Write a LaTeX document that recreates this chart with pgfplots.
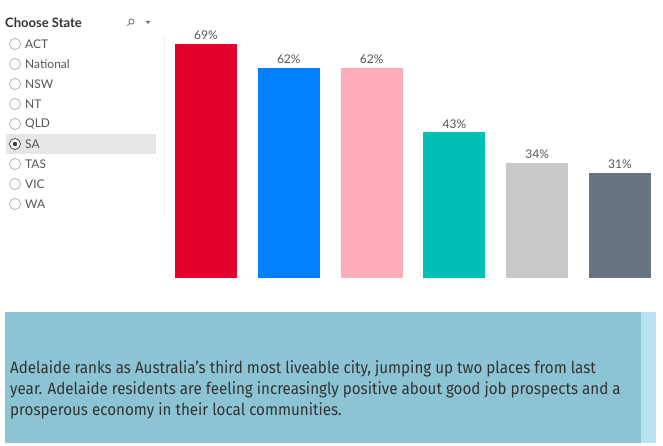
\documentclass[border=0pt]{standalone}
\usepackage{pgfplots}
\pgfplotsset{compat=1.18}
\usepackage{fontspec}
\setmainfont{Lato}
\newfontfamily\boxfont[FakeStretch=0.92]{Fira Sans}
\definecolor{cRed}{HTML}{E4002B}
\definecolor{cBlue}{HTML}{0080FF}
\definecolor{cPink}{HTML}{FFADBB}
\definecolor{cTeal}{HTML}{00BFB3}
\definecolor{cLGrey}{HTML}{C8C8C8}
\definecolor{cDGrey}{HTML}{687580}
\definecolor{boxBlue}{HTML}{8CC4D4}
\definecolor{boxStrip}{HTML}{BAE1EE}
\definecolor{txtGrey}{HTML}{555555}
\definecolor{hlGrey}{HTML}{E6E6E6}
\begin{document}
\begin{tikzpicture}[x=1pt,y=1pt]
\path[use as bounding box,fill=white] (0,0) rectangle (663,446);
% left panel
\node[anchor=west,font=\fontsize{13}{15}\selectfont\bfseries,text=black!80,inner sep=0] at (5,423) {Choose State};
\draw[black!55,line width=0.8pt] (131.5,424.5) circle (2.6);
\draw[black!55,line width=0.9pt] (129.6,422.6) -- (127.3,420.3);
\fill[black!55] (145.5,425) -- (150.5,425) -- (148,422) -- cycle;
\fill[hlGrey] (6,292) rectangle (156,312);
\draw[black!6] (164,230) -- (164,410);
\foreach \lab [count=\i from 0] in {ACT,National,NSW,NT,QLD,SA,TAS,VIC,WA}{
  \pgfmathsetmacro{\yy}{402-20*\i}
  \draw[black!35,line width=0.6pt] (15,\yy) circle (5.5);
  \node[anchor=west,font=\fontsize{12}{14}\selectfont,text=txtGrey,inner sep=0] at (25,\yy) {\lab};
}
\fill[white] (15,302) circle (5);
\draw[black!70,line width=0.7pt] (15,302) circle (5.5);
\fill[black!75] (15,302) circle (2.2);
% bottom box
\fill[boxBlue] (5,3) rectangle (641,134);
\fill[boxStrip] (641,3) rectangle (656,134);
\node[anchor=west,font=\boxfont\fontsize{16.5}{21}\selectfont,text=black!80,inner sep=0,align=left] at (10,56)
 {Adelaide ranks as Australia’s third most liveable city, jumping up two places from last\\
  year. Adelaide residents are feeling increasingly positive about good job prospects and a\\
  prosperous economy in their local communities.};
% bars
\begin{axis}[at={(164.6pt,168pt)},anchor=south west,scale only axis,
  width=496.8pt,height=234pt,xmin=-0.5,xmax=5.5,ymin=0,ymax=69,
  hide axis,clip=false,
  every node near coord/.append style={font=\fontsize{12}{14}\selectfont,text=txtGrey,yshift=0.5pt,
    /pgf/number format/assume math mode=true},
  nodes near coords={\pgfmathprintnumber{\pgfplotspointmeta}\%}]
\addplot[ybar,bar width=62pt,bar shift=0pt,fill=cRed,draw=none] coordinates {(0,69)};
\addplot[ybar,bar width=62pt,bar shift=0pt,fill=cBlue,draw=none] coordinates {(1,62)};
\addplot[ybar,bar width=62pt,bar shift=0pt,fill=cPink,draw=none] coordinates {(2,62)};
\addplot[ybar,bar width=62pt,bar shift=0pt,fill=cTeal,draw=none] coordinates {(3,43)};
\addplot[ybar,bar width=62pt,bar shift=0pt,fill=cLGrey,draw=none] coordinates {(4,34)};
\addplot[ybar,bar width=62pt,bar shift=0pt,fill=cDGrey,draw=none] coordinates {(5,31)};
\end{axis}
\end{tikzpicture}
\end{document}
